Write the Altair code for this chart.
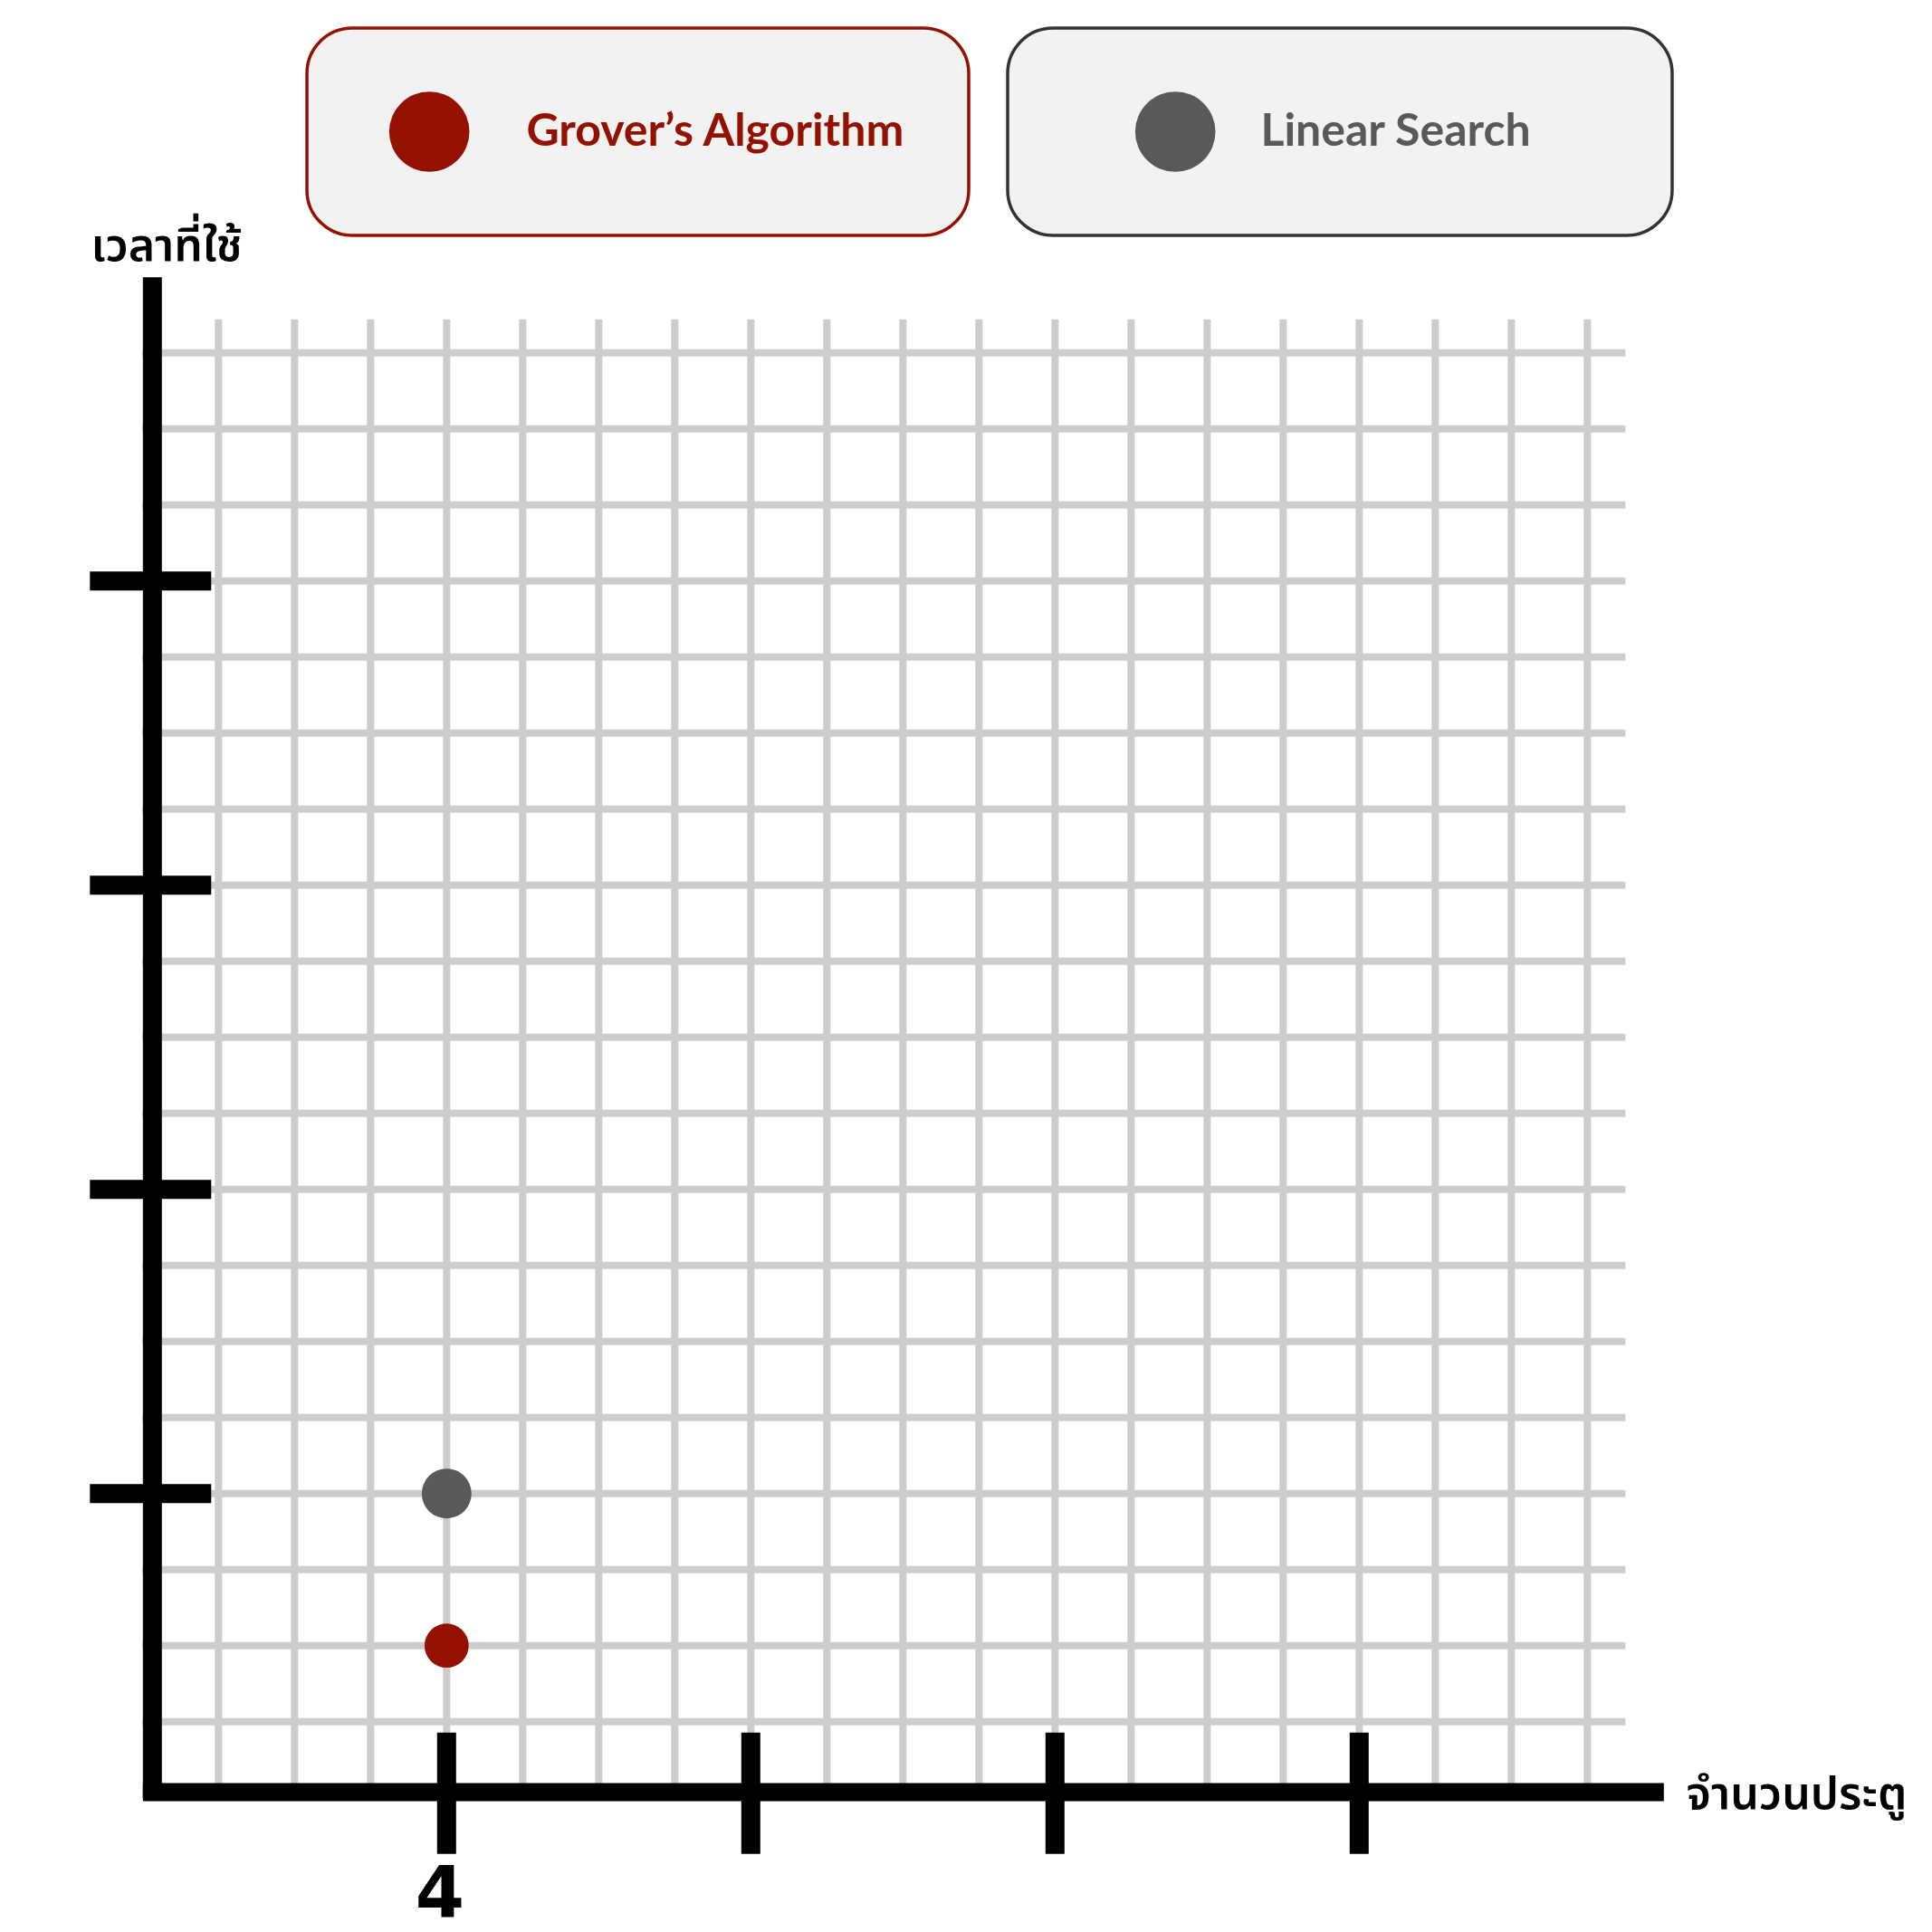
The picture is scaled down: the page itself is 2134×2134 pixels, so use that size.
import altair as alt
import pandas as pd

# ---- data ----
series_names = ["Grover’s Algorithm", "Linear Search"]
doors = [4, 4]              # จำนวนประตู
time_used = [2, 4]          # เวลาที่ใช้
series_colors = ["#941100", "#5a5859"]
legend_borders = ["#941100", "#333333"]

grid_values = [1, 2, 3, 4, 5, 6, 7, 8, 9, 10, 11, 12, 13, 14, 15, 16, 17, 18, 19]
tick_values = [4, 8, 12, 16]
x_label_values = [4]
x_title = "จำนวนประตู"
y_title = "เวลาที่ใช้"

AXIS_MAX = 20
GRID_END_X = 19.5
GRID_END_Y = 19.44

W = 1680
H = 1680

thai_font = "Noto Sans Thai, Noto Sans Thai UI, Kanit, Sarabun, Loma, Garuda, Noto Sans, sans-serif"

xs = alt.Scale(domain=[0, AXIS_MAX], nice=False, zero=False)
ys = alt.Scale(domain=[0, AXIS_MAX], nice=False, zero=False)

grid_df = pd.DataFrame({"g": grid_values})
tick_df = pd.DataFrame({"t": tick_values})
pts = pd.DataFrame({"series": series_names, "doors": doors, "time": time_used})
grover_df = pts[pts["series"] == series_names[0]]
linear_df = pts[pts["series"] == series_names[1]]

# gridlines
vgrid = alt.Chart(grid_df).mark_rule(color="#cccccc", strokeWidth=8).encode(
    x=alt.X("g:Q", scale=xs, axis=alt.Axis(
        values=x_label_values, format="d", ticks=False, grid=False, domain=True,
        domainColor="black", domainWidth=20, offset=-6.7, zindex=1,
        labelFont="DejaVu Sans", labelFontSize=78, labelFontWeight="bold",
        labelColor="black", labelBaseline="alphabetic", labelPadding=137,
        labelOffset=-8, title=x_title, titleFont=thai_font, titleFontSize=50,
        titleFontWeight=600, titleColor="black", titleAlign="left",
        titleBaseline="alphabetic", titleAngle=0, titleX=1704.7, titleY=18)),
    y=alt.datum(0, scale=ys),
    y2=alt.datum(GRID_END_Y),
)
hgrid = alt.Chart(grid_df).mark_rule(color="#cccccc", strokeWidth=8).encode(
    y=alt.Y("g:Q", scale=ys, axis=alt.Axis(
        ticks=False, labels=False, grid=False, domain=True,
        domainColor="black", domainWidth=21, offset=-10.5, zindex=1,
        title=y_title, titleFont=thai_font, titleFontSize=50,
        titleFontWeight=600, titleColor="black", titleAlign="left",
        titleBaseline="alphabetic", titleAngle=0, titleX=-67.8, titleY=-18.7)),
    x=alt.datum(0, scale=xs),
    x2=alt.datum(GRID_END_X),
)

# tick marks crossing the axes
xticks = alt.Chart(tick_df).mark_tick(
    orient="vertical", size=134, thickness=21, color="black", opacity=1, yOffset=-5
).encode(x=alt.X("t:Q", scale=xs), y=alt.datum(0, scale=ys))
yticks = alt.Chart(tick_df).mark_tick(
    orient="horizontal", size=134, thickness=21, color="black", opacity=1, xOffset=9
).encode(y=alt.Y("t:Q", scale=ys), x=alt.datum(0, scale=xs))


def legend_for(i, sym_offset, label_offset, label_expr=None):
    kw = dict(
        title=None, orient="none", legendX=[181.7, 955.7][i], legendY=-274.7,
        fillColor="#f2f2f2", strokeColor=legend_borders[i], cornerRadius=50,
        padding=70, symbolType="circle", symbolSize=7854, symbolStrokeWidth=0,
        symbolOpacity=1, symbolOffset=sym_offset, labelOffset=label_offset,
        labelFont="Lato", labelFontSize=50, labelFontWeight="bold",
        labelColor=series_colors[i], labelLimit=2000,
    )
    if label_expr:
        kw["labelExpr"] = label_expr
    return alt.Legend(**kw)


# the second box is as wide as the first: pad its label with non-breaking
# spaces, closed by a zero-width space so that the padding is not trimmed
LABEL_PAD = "\u00a0" * 7 + "\u200b"

grover = alt.Chart(grover_df).mark_circle(size=2376, opacity=1).encode(
    x=alt.X("doors:Q", scale=xs),
    y=alt.Y("time:Q", scale=ys),
    color=alt.Color("series:N", scale=alt.Scale(domain=[series_names[0]], range=[series_colors[0]]),
                    legend=legend_for(0, 20.7, 62.7)),
)
linear = alt.Chart(linear_df).mark_circle(size=3019, opacity=1).encode(
    x=alt.X("doors:Q", scale=xs),
    y=alt.Y("time:Q", scale=ys),
    color=alt.Color("series:N", scale=alt.Scale(domain=[series_names[1]], range=[series_colors[1]]),
                    legend=legend_for(1, 70.7, 49.7, "datum.label + '" + LABEL_PAD + "'")),
)

chart = (
    alt.layer(vgrid, hgrid, xticks, yticks, linear, grover)
    .resolve_scale(color="independent")
    .resolve_legend(color="independent")
    .properties(
        width=W, height=H,
        autosize=alt.AutoSizeParams(type="none"),
        padding={"left": 157.3, "top": 305.7, "right": 296.7, "bottom": 148.3},
        background="white",
    )
    .configure_view(strokeWidth=0)
    .configure_legend(strokeWidth=3.5)
)

chart.save("out.html", embed_options={"renderer": "svg", "actions": False})
